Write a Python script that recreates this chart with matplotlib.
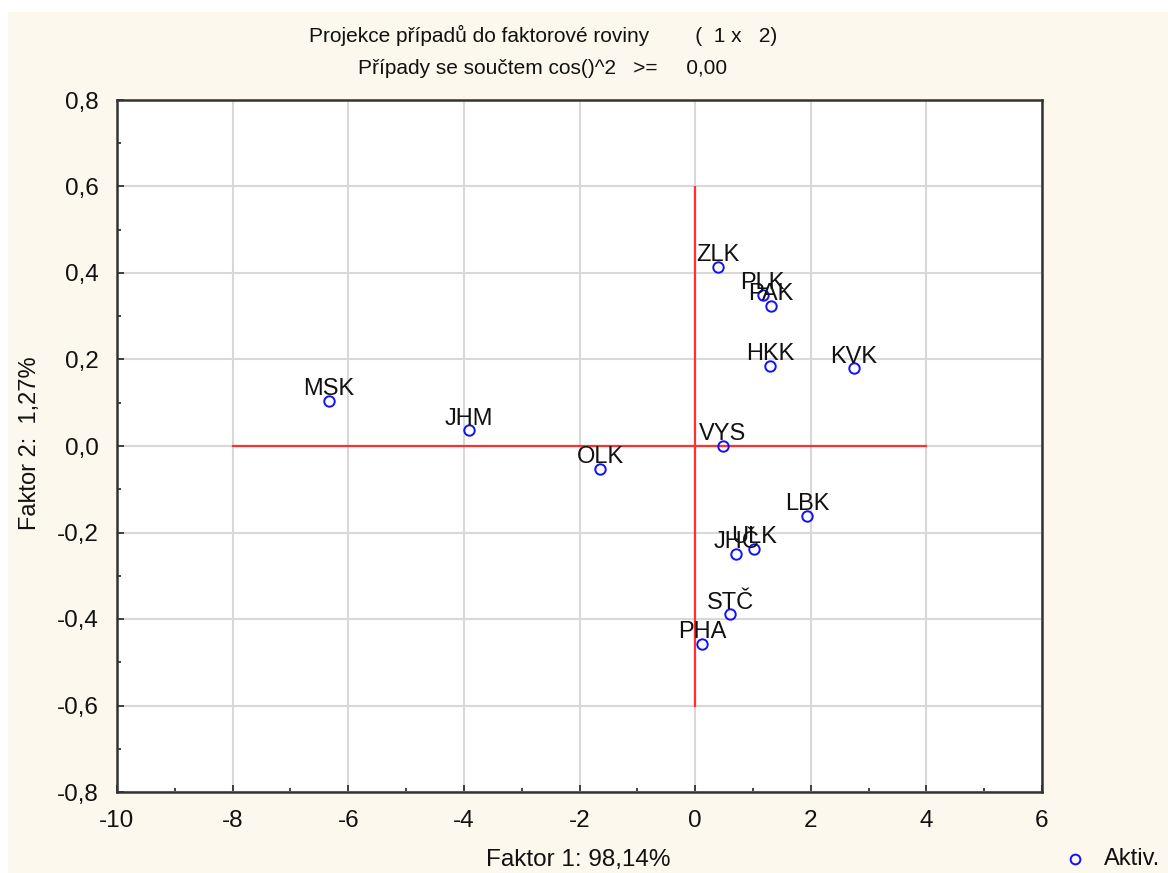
import matplotlib
matplotlib.use("Agg")
import matplotlib.pyplot as plt
from matplotlib.patches import Rectangle
from matplotlib.ticker import MultipleLocator, FuncFormatter

# projection of the regions onto factor plane (1 x 2)
labels = ["ZLK", "PLK", "PAK", "HKK", "KVK", "MSK", "JHM", "OLK",
          "VYS", "LBK", "ULK", "JHČ", "STČ", "PHA"]
faktor1 = [0.39, 1.17, 1.31, 1.30, 2.74, -6.34, -3.92, -1.64,
           0.48, 1.94, 1.02, 0.71, 0.61, 0.12]
faktor2 = [0.415, 0.350, 0.324, 0.185, 0.180, 0.105, 0.036, -0.053,
           0.000, -0.161, -0.237, -0.249, -0.389, -0.457]

plt.rcParams['font.family'] = ['Liberation Sans', 'DejaVu Sans']

fig = plt.figure(figsize=(11.68, 8.73), dpi=100, facecolor="white")
# cream panel behind everything, with a thin white margin top/left
fig.patches.append(Rectangle((8 / 1168, 0), 1, 1 - 12 / 873,
                             transform=fig.transFigure, facecolor="#FDF8EE",
                             edgecolor="none", zorder=-10))

ax = fig.add_axes([117 / 1168, 1 - 792 / 873, 925 / 1168, 692 / 873])
ax.set_facecolor("white")

ax.set_xlim(-10, 6)
ax.set_ylim(-0.8, 0.8)
ax.xaxis.set_major_locator(MultipleLocator(2))
ax.xaxis.set_minor_locator(MultipleLocator(1))
ax.yaxis.set_major_locator(MultipleLocator(0.2))
ax.yaxis.set_minor_locator(MultipleLocator(0.1))
ax.yaxis.set_major_formatter(FuncFormatter(lambda v, p: f"{v:.1f}".replace(".", ",").replace("-0,0", "0,0")))
ax.xaxis.set_major_formatter(FuncFormatter(lambda v, p: f"{v:.0f}"))

ax.grid(True, which="major", color="#D8D8D8", linewidth=1.5, zorder=0)
ax.tick_params(which="both", direction="in", colors="#333333", labelcolor="#111111",
               labelsize=17.5)
ax.tick_params(which="major", length=5, width=1.3, pad=13)
ax.tick_params(which="minor", length=3, width=1.3)
for s in ax.spines.values():
    s.set_color("#333333")
    s.set_linewidth(1.8)

# red reference axes
ax.plot([-8, 4], [0, 0], color="#FF3030", linewidth=1.6, zorder=2)
ax.plot([0, 0], [-0.6, 0.6], color="#FF3030", linewidth=1.6, zorder=2)

ax.plot(faktor1, faktor2, linestyle="none", marker="o", markersize=7.5,
        markerfacecolor="none", markeredgecolor="#1010FF", markeredgewidth=1.4,
        zorder=3)
for lab, x, y in zip(labels, faktor1, faktor2):
    ax.annotate(lab, (x, y), xytext=(0, 4), textcoords="offset points",
                ha="center", va="baseline", fontsize=17, color="#111111",
                zorder=4)

fig.text(543 / 1168, 1 - 35 / 873, "Projekce případů do faktorové roviny        (  1 x   2)",
         ha="center", va="center", fontsize=15, color="#111111")
fig.text(543 / 1168, 1 - 68 / 873, "Případy se součtem cos()^2   >=     0,00",
         ha="center", va="center", fontsize=15, color="#111111")

fig.text(578 / 1168, 1 - 860 / 873, "Faktor 1: 98,14%", ha="center", va="center",
         fontsize=17.5, color="#111111")
fig.text(30 / 1168, 1 - 443 / 873, "Faktor 2:  1,27%", ha="center", va="center",
         rotation=90, fontsize=17, color="#111111")

# legend entry in the bottom right corner
fig.lines.append(plt.Line2D([1075 / 1168], [1 - 859 / 873], transform=fig.transFigure,
                            marker="o", markersize=7, markerfacecolor="none",
                            markeredgecolor="#1010FF", markeredgewidth=1.4,
                            linestyle="none"))
fig.text(1104 / 1168, 1 - 859 / 873, "Aktiv.", ha="left", va="center",
         fontsize=17, color="#111111")

fig.savefig("out.png", dpi=100, facecolor=fig.get_facecolor())
